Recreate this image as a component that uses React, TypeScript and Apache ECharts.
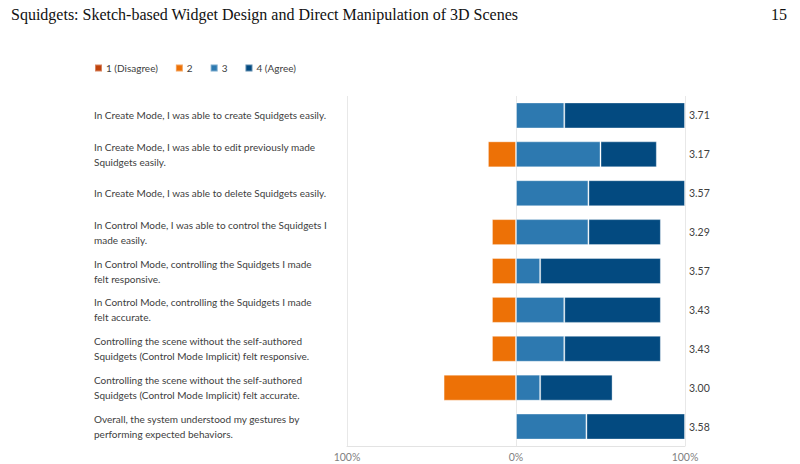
import React, { useEffect, useRef } from "react";
import * as echarts from "echarts";

const categories: string[] = [
  "In Create Mode, I was able to create Squidgets easily.",
  "In Create Mode, I was able to edit previously made\nSquidgets easily.",
  "In Create Mode, I was able to delete Squidgets easily.",
  "In Control Mode, I was able to control the Squidgets I\nmade easily.",
  "In Control Mode, controlling the Squidgets I made\nfelt responsive.",
  "In Control Mode, controlling the Squidgets I made\nfelt accurate.",
  "Controlling the scene without the self-authored\nSquidgets (Control Mode Implicit) felt responsive.",
  "Controlling the scene without the self-authored\nSquidgets (Control Mode Implicit) felt accurate.",
  "Overall, the system understood my gestures by\nperforming expected behaviors.",
];

// Percent of responses per answer (1 and 2 drawn to the left of 0)
const disagree1: number[] = [0, 0, 0, 0, 0, 0, 0, 0, 0];
const answer2: number[] = [0, 16.67, 0, 14.29, 14.29, 14.29, 14.29, 42.86, 0];
const answer3: number[] = [28.57, 50, 42.86, 42.86, 14.29, 28.57, 28.57, 14.29, 41.67];
const agree4: number[] = [71.43, 33.33, 57.14, 42.86, 71.43, 57.14, 57.14, 42.86, 58.33];
const means: string[] = ["3.71", "3.17", "3.57", "3.29", "3.57", "3.43", "3.43", "3.00", "3.58"];

const xTicks = { min: -100, max: 100, interval: 100 };

const FONT = "Lato, 'Noto Sans', sans-serif";

export default function App() {
  const ref = useRef<HTMLDivElement>(null);
  useEffect(() => {
    if (!ref.current) return;
    const chart = echarts.init(ref.current, undefined, { renderer: "svg" });
    const barW = 26;
    const border = { borderColor: "rgba(255,255,255,0.35)", borderWidth: 1 };
    chart.setOption({
      animation: false,
      textStyle: { fontFamily: FONT },
      title: [
        {
          text: "Squidgets: Sketch-based Widget Design and Direct Manipulation of 3D Scenes",
          left: 6,
          top: 1,
          textStyle: { fontFamily: "'Liberation Serif', serif", fontSize: 16, fontWeight: "normal", color: "#111" },
        },
        {
          text: "15",
          right: 8,
          top: 1,
          textStyle: { fontFamily: "'Liberation Serif', serif", fontSize: 16, fontWeight: "normal", color: "#111" },
        },
      ],
      legend: {
        data: ["1 (Disagree)", "2", "3", "4 (Agree)"],
        left: 89,
        top: 58,
        itemWidth: 7,
        itemHeight: 7,
        itemGap: 17,
        icon: "rect",
        textStyle: { fontFamily: FONT, fontSize: 10, color: "#404040", padding: [0, 0, 0, -1] },
      },
      grid: { left: 347, right: 115, top: 96, bottom: 18 },
      xAxis: {
        type: "value",
        min: xTicks.min,
        max: xTicks.max,
        interval: xTicks.interval,
        axisLine: { show: true, lineStyle: { color: "#E3E3E3" } },
        axisTick: { show: false },
        splitLine: { show: true, lineStyle: { color: "#E8E8E8" } },
        axisLabel: {
          formatter: (v: number) => Math.abs(v) + "%",
          color: "#7F7F7F",
          fontSize: 10.5,
          margin: 5,
          fontFamily: FONT,
        },
      },
      yAxis: [
        {
          type: "category",
          data: categories,
          inverse: true,
          axisLine: { show: false },
          axisTick: { show: false },
          axisLabel: {
            align: "left",
            margin: 253,
            color: "#404040",
            fontSize: 10,
            lineHeight: 15,
            padding: [2, 0, 0, 0],
            fontFamily: FONT,
          },
        },
        {
          type: "category",
          data: means,
          inverse: true,
          position: "right",
          axisLine: { show: false },
          axisTick: { show: false },
          axisLabel: { margin: 4, color: "#404040", fontSize: 10.5, fontFamily: FONT },
        },
      ],
      series: [
        {
          name: "2",
          type: "bar",
          stack: "s",
          barWidth: barW,
          data: answer2.map((v) => -v),
          itemStyle: { color: "#ED7106", ...border },
        },
        {
          name: "1 (Disagree)",
          type: "bar",
          stack: "s",
          barWidth: barW,
          data: disagree1.map((v) => -v),
          itemStyle: { color: "#C0430C", ...border },
        },
        {
          name: "3",
          type: "bar",
          stack: "s",
          barWidth: barW,
          data: answer3,
          itemStyle: { color: "#2D79B0", ...border },
        },
        {
          name: "4 (Agree)",
          type: "bar",
          stack: "s",
          barWidth: barW,
          data: agree4,
          itemStyle: { color: "#034A80", ...border },
        },
      ],
    });
    return () => chart.dispose();
  }, []);
  return <div ref={ref} style={{ width: 800, height: 464, position: "fixed", left: 0, top: 0, background: "#fff" }} />;
}
